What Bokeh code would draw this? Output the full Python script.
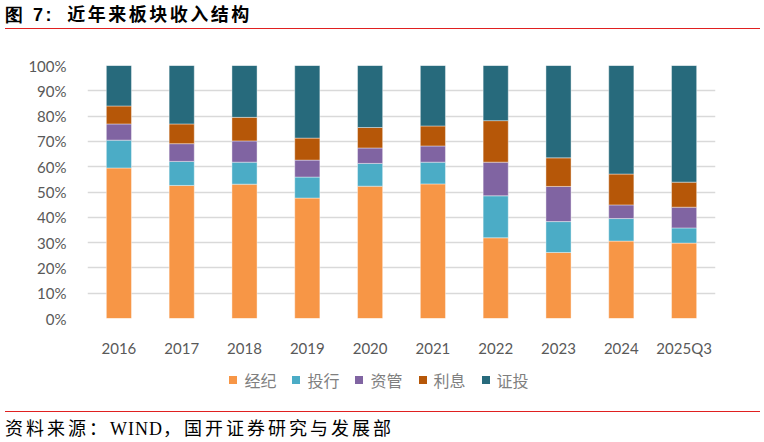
from bokeh.plotting import figure
from bokeh.models import Div, NumeralTickFormatter, FixedTicker, Range1d
from bokeh.layouts import column
from bokeh.embed import file_html
from bokeh.resources import INLINE

# Revenue mix by business line (share of total, %)
years = ["2016", "2017", "2018", "2019", "2020", "2021", "2022", "2023", "2024", "2025Q3"]
brokerage = [59.5, 52.6, 53.1, 47.6, 52.3, 53.2, 31.9, 26.1, 30.6, 29.8]
ib = [11.0, 9.5, 8.7, 8.3, 9.0, 8.6, 16.6, 12.2, 8.9, 6.0]
am = [6.4, 7.0, 8.4, 6.7, 6.1, 6.4, 13.3, 13.9, 5.4, 8.2]
interest = [7.1, 7.8, 9.3, 8.7, 8.1, 7.9, 16.4, 11.3, 12.2, 9.9]
prop = [16.0, 23.1, 20.5, 28.7, 24.5, 23.9, 21.8, 36.5, 42.9, 46.1]

series = ["经纪", "投行", "资管", "利息", "证投"]
colors = ["#F79646", "#4BACC6", "#8064A2", "#B65708", "#276A7C"]

data = {"year": years}
for name, vals in zip(series, [brokerage, ib, am, interest, prop]):
    data[name] = [v / 100.0 for v in vals]

W = 764
title = Div(
    text=('<div style="width:755px;height:29px;border-bottom:1.5px solid #E02020;'
          'margin-left:5px;font-family:\'Noto Sans CJK SC\';font-weight:bold;'
          'font-size:18px;letter-spacing:2.5px;color:#000;line-height:26px;">'
          '<span style="font-family:\'Liberation Sans\';">图 7:</span>&nbsp;&nbsp;近年来板块收入结构</div>'),
    width=W, height=32, margin=(0, 0, 0, 0),
)

p = figure(
    x_range=years, width=W, height=333,
    output_backend="svg", toolbar_location=None,
    min_border_left=87, min_border_right=49, min_border_top=33, min_border_bottom=47,
    outline_line_color=None,
)
p.y_range = Range1d(0, 1.0)

p.vbar_stack(
    series, x="year", width=0.4, source=data, color=colors,
    line_color="white", line_alpha=0.4, line_width=1,
)

p.yaxis.ticker = FixedTicker(ticks=[i / 10 for i in range(11)])
p.yaxis.formatter = NumeralTickFormatter(format="0%")
for ax in (p.xaxis, p.yaxis):
    ax.axis_line_color = None
    ax.major_tick_line_color = None
    ax.minor_tick_line_color = None
    ax.major_label_text_font = "Lato"
    ax.major_label_text_font_size = "15px"
    ax.major_label_text_color = "#595959"
p.yaxis.major_label_standoff = 15
p.xaxis.major_label_standoff = 14
p.xgrid.grid_line_color = None
p.ygrid.grid_line_color = "#D9D9D9"
p.ygrid.grid_line_width = 1.5

# Legend row: colour swatch + series name for each stacked segment
items_html = "".join(
    f'<span style="display:inline-flex;align-items:center;margin:0 8px;">'
    f'<span style="display:inline-block;width:8px;height:8px;background:{c};margin-right:7px;"></span>'
    f'<span>{s}</span></span>'
    for s, c in zip(series, colors)
)
legend_div = Div(
    text=('<div style="width:764px;height:44px;display:flex;justify-content:center;'
          'align-items:center;font-family:\'Noto Sans CJK SC\';font-size:16px;'
          'color:#7F7F7F;padding-right:6px;box-sizing:border-box;margin-top:-7px;">'
          + items_html + '</div>'),
    width=W, height=44, margin=(0, 0, 0, 0),
)

source = Div(
    text=('<div style="width:755px;height:30px;border-top:1.5px solid #E02020;'
          'margin-left:5px;margin-top:2px;font-family:\'Noto Sans CJK SC\';'
          'font-size:18px;letter-spacing:3px;color:#000;line-height:30px;">'
          '资料来源：<span style="font-family:\'Liberation Serif\';letter-spacing:1px;">WIND</span>，国开证券研究与发展部</div>'),
    width=W, height=33, margin=(0, 0, 0, 0),
)

layout = column(title, p, legend_div, source, spacing=0)
open("out.html", "w").write(file_html(layout, INLINE))
